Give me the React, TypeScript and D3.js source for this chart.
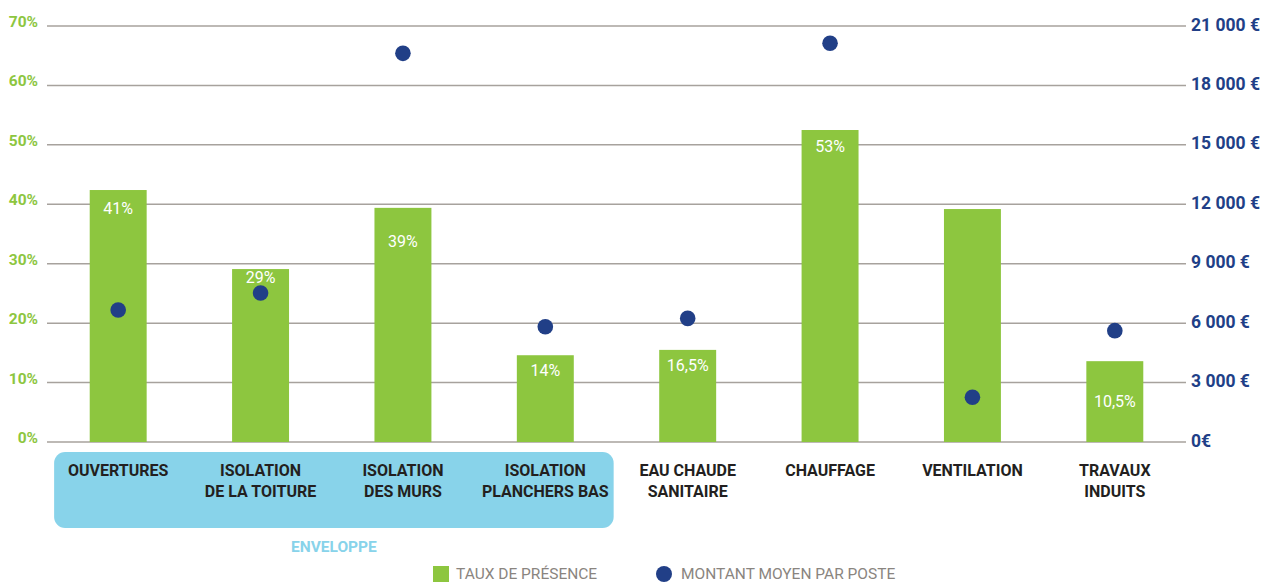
import * as d3 from 'd3';

const categories = [
  'OUVERTURES',
  'ISOLATION\nDE LA TOITURE',
  'ISOLATION\nDES MURS',
  'ISOLATION\nPLANCHERS BAS',
  'EAU CHAUDE\nSANITAIRE',
  'CHAUFFAGE',
  'VENTILATION',
  'TRAVAUX\nINDUITS'
];

// taux de présence (%), as drawn
const presence = [42.4, 29.1, 39.4, 14.6, 15.5, 52.5, 39.2, 13.6];
const presenceLabels = ['41%', '29%', '39%', '14%', '16,5%', '53%', '', '10,5%'];
// level (in %) where each label sits inside its bar
const labelLevels = [39.4, 27.8, 33.7, 12.1, 13.0, 49.7, 0, 6.8];

// montant moyen par poste (€)
const montant = [6660, 7520, 19620, 5820, 6240, 20130, 2260, 5620];

const pctTicks = [0, 10, 20, 30, 40, 50, 60, 70];
const euroTicks = [0, 3000, 6000, 9000, 12000, 15000, 18000, 21000];
const euroTickLabels = ['0€', '3 000 €', '6 000 €', '9 000 €', '12 000 €', '15 000 €', '18 000 €', '21 000 €'];

const enveloppe = ['OUVERTURES', 'ISOLATION\nDE LA TOITURE', 'ISOLATION\nDES MURS', 'ISOLATION\nPLANCHERS BAS'];

const GREEN = '#8dc63f';
const BLUE = '#213f87';
const SKY = '#88d3ea';
const GRID = '#a7a29d';

const width = 1277;
const height = 583;
const left = 47;
const right = 1186;
const top = 26;
const bottom = 442;

export default function App() {
  const x = d3.scaleBand<string>().domain(categories).range([left, right]).paddingInner(0.6).paddingOuter(0.3);
  const yPct = d3.scaleLinear().domain([0, 70]).range([bottom, top]);
  const yEur = d3.scaleLinear().domain([0, 21000]).range([bottom, top]);
  const bw = x.bandwidth();
  const step = x.step();
  const cx = (c: string) => (x(c) as number) + bw / 2;

  const boxX0 = cx(enveloppe[0]) - step * 0.45;
  const boxX1 = cx(enveloppe[enveloppe.length - 1]) + step * 0.48;

  return (
    <svg
      width={width}
      height={height}
      style={{ position: 'absolute', left: 0, top: 0, fontFamily: 'Roboto, sans-serif' }}
    >
      <rect width={width} height={height} fill="#fff" />

      {/* grid */}
      {pctTicks.map((t) => (
        <line key={t} x1={left} x2={right} y1={yPct(t)} y2={yPct(t)} stroke={GRID} strokeWidth={1.5} />
      ))}

      {/* left axis */}
      {pctTicks.map((t) => (
        <text key={t} x={38} y={yPct(t) + 1} textAnchor="end" fontSize={15.5} fontWeight={700} fill={GREEN}>
          {t}%
        </text>
      ))}

      {/* right axis */}
      {euroTicks.map((t, i) => (
        <text key={t} x={1191} y={yEur(t) + 4.5} fontSize={17.5} fontWeight={700} fill={BLUE}>
          {euroTickLabels[i]}
        </text>
      ))}

      {/* bars */}
      {categories.map((c, i) => (
        <rect key={c} x={x(c)} y={yPct(presence[i])} width={bw} height={bottom - yPct(presence[i])} fill={GREEN} />
      ))}

      {/* bar labels */}
      {categories.map((c, i) =>
        presenceLabels[i] ? (
          <text key={c} x={cx(c)} y={yPct(labelLevels[i])} dy="0.36em" textAnchor="middle" fontSize={16} fill="#fff">
            {presenceLabels[i]}
          </text>
        ) : null
      )}

      {/* dots */}
      {categories.map((c, i) => (
        <circle key={c} cx={cx(c)} cy={yEur(montant[i])} r={7.8} fill={BLUE} />
      ))}

      {/* enveloppe box */}
      <rect x={boxX0} y={452} width={boxX1 - boxX0} height={76} rx={11} fill={SKY} />
      <text x={(boxX0 + boxX1) / 2} y={552} textAnchor="middle" fontSize={15.5} fontWeight={700} fill={SKY}>
        ENVELOPPE
      </text>

      {/* category labels */}
      {categories.map((c) => (
        <text key={c} textAnchor="middle" fontSize={16} fontWeight={700} fill="#231f20">
          {c.split('\n').map((line, j) => (
            <tspan key={j} x={cx(c)} y={476 + j * 21}>
              {line}
            </tspan>
          ))}
        </text>
      ))}

      {/* legend */}
      <rect x={433} y={566} width={16} height={16} fill={GREEN} />
      <text x={456} y={579} fontSize={15.5} fill="#8a8580">
        TAUX DE PRÉSENCE
      </text>
      <circle cx={664} cy={574} r={8} fill={BLUE} />
      <text x={681} y={579} fontSize={15.5} fill="#8a8580">
        MONTANT MOYEN PAR POSTE
      </text>
    </svg>
  );
}
